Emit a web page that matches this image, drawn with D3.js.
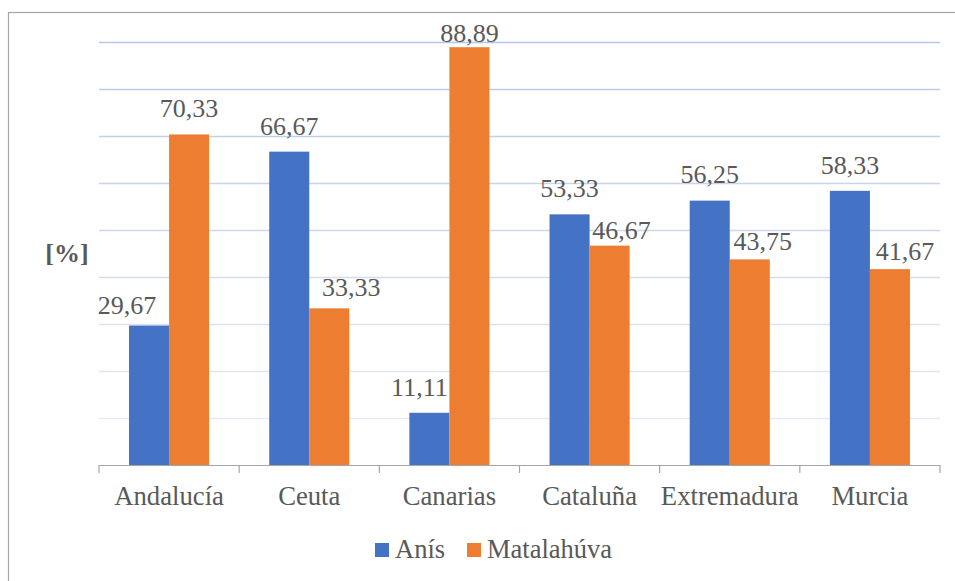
<!DOCTYPE html>
<html>
<head>
<meta charset="utf-8">
<script src="https://cdn.jsdelivr.net/npm/d3@7"></script>
</head>
<body style="margin:0">
<svg width="955" height="581"></svg>
<script>
// Anís vs Matalahúva share per region, in %
const regions = ['Andalucía', 'Ceuta', 'Canarias', 'Cataluña', 'Extremadura', 'Murcia'];
const series = ['Anís', 'Matalahúva'];
const anis = [29.67, 66.67, 11.11, 53.33, 56.25, 58.33];
const matalahuva = [70.33, 33.33, 88.89, 46.67, 43.75, 41.67];
const yTicks = [10, 20, 30, 40, 50, 60, 70, 80, 90];
const colors = ['#4472C4', '#ED7D31'];
const txt = '#595959';
const FONT = '"Liberation Serif"';

// label nudges copied from the original (Excel moved some labels to avoid the neighbour bar)
const anisNudge = [[-22, 12], [0, 17], [-10, 17], [0, 17], [0, 18], [0, 17]];
const mataNudge = [[0, 17], [22, 12], [0, 5], [12, 7], [13, 9], [15, 9]];

const W = 955, H = 581;
const M = {left: 99, right: 15, top: 42, bottom: 116};
const svg = d3.select('svg');

// outer frame (right/bottom edges fall outside the picture)
svg.append('rect').attr('x', 8.5).attr('y', 12.5).attr('width', 960).attr('height', 600)
  .attr('fill', 'none').attr('stroke', '#a6a6a6').attr('stroke-width', 1.2);

const x0 = d3.scaleBand().domain(regions).range([M.left, W - M.right]).paddingInner(0).paddingOuter(0);
const x1 = d3.scaleBand().domain(series).range([0, x0.bandwidth()]).paddingInner(0).paddingOuter(0.75);
const y = d3.scaleLinear().domain([0, 90]).range([H - M.bottom, M.top]);
const gridCol = d3.scaleLinear().domain([10, 90]).range(['#e6e9f6', '#b4c7e7']);

// gridlines, fading towards the bottom
svg.append('g').selectAll('line').data(yTicks).join('line')
  .attr('x1', M.left).attr('x2', W - M.right)
  .attr('y1', d => Math.round(y(d)) + 0.5).attr('y2', d => Math.round(y(d)) + 0.5)
  .attr('stroke', d => gridCol(d)).attr('stroke-width', 1.5);

function label(sel, fs) {
  return sel.attr('font-size', fs).attr('fill', txt)
    .attr('font-family', 'Liberation Serif').style('font-family', FONT);
}

const rows = regions.map((r, i) => ({region: r, vals: [anis[i], matalahuva[i]], nudge: [anisNudge[i], mataNudge[i]]}));
const bars = d => d.vals.map((v, j) => ({s: series[j], v, j, n: d.nudge[j]}));
const g = svg.append('g').selectAll('g').data(rows).join('g')
  .attr('transform', d => `translate(${x0(d.region)},0)`);
g.selectAll('rect').data(bars).join('rect')
  .attr('x', d => x1(d.s)).attr('width', x1.bandwidth())
  .attr('y', d => y(d.v)).attr('height', d => y(0) - y(d.v))
  .attr('fill', d => colors[d.j]);
g.selectAll('text').data(bars).join('text')
  .attr('x', d => x1(d.s) + x1.bandwidth() / 2 + d.n[0]).attr('y', d => y(d.v) - d.n[1])
  .attr('text-anchor', 'middle').call(label, 26)
  .text(d => d.v.toFixed(2).replace('.', ','));

// x axis with ticks between categories
const ax = svg.append('g').attr('transform', `translate(0,${y(0)})`);
ax.append('line').attr('x1', M.left).attr('x2', W - M.right).attr('y1', 0.5).attr('y2', 0.5)
  .attr('stroke', '#a6a6a6').attr('stroke-width', 1.2);
const edges = regions.map(r => x0(r)).concat([W - M.right]);
ax.selectAll('line.tk').data(edges).join('line').attr('class', 'tk')
  .attr('x1', d => d).attr('x2', d => d).attr('y1', 0).attr('y2', 8)
  .attr('stroke', '#a6a6a6').attr('stroke-width', 1.2);
ax.selectAll('text').data(regions).join('text')
  .attr('x', d => x0(d) + x0.bandwidth() / 2).attr('y', 40)
  .attr('text-anchor', 'middle').call(label, 26.7).text(d => d);

// y axis title
svg.append('text').attr('x', 67).attr('y', 262).attr('text-anchor', 'middle')
  .call(label, 26).attr('font-weight', 'bold').text('[%]');

// legend
const leg = svg.append('g').attr('transform', 'translate(375,543)');
const items = leg.selectAll('g').data(series).join('g')
  .attr('transform', (d, i) => `translate(${i * 92},0)`);
items.append('rect').attr('width', 14).attr('height', 14).attr('fill', (d, i) => colors[i]);
items.append('text').attr('x', 20).attr('y', 15).call(label, 26.5).text(d => d);
</script>
</body>
</html>
